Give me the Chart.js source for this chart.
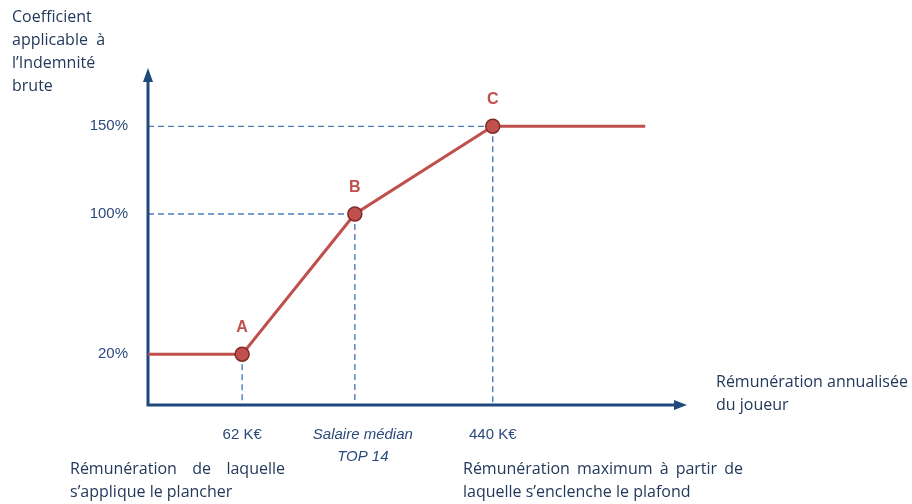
<!DOCTYPE html>
<html>
<head>
<meta charset="utf-8">
<script src="https://cdn.jsdelivr.net/npm/chart.js@4.4.0/dist/chart.umd.min.js"></script>
<style>
  html, body { margin: 0; padding: 0; background: #fff; }
  #wrap { width: 912px; height: 504px; position: relative; }
</style>
</head>
<body>
<div id="wrap"><canvas id="chart"></canvas></div>
<script>
// Schematic values
const remuneration = [-80, 62, 232, 440, 670];   // K€ (median position estimated)
const coefficient = [20, 20, 100, 150, 150];      // %
const pointNames = ['', 'A', 'B', 'C', ''];
const yTicks = [20, 100, 150];
const xTicks = [
    { at: 62, lines: ['62 K€'], italic: false },
    { at: 232, lines: ['Salaire médian', 'TOP 14'], italic: true },
    { at: 440, lines: ['440 K€'], italic: false }
];

const AXIS = '#1F497D';
const RED = '#C0504D';
const DASH = '#4A7EBB';
const TEXT = '#23395B';
const TICK = '#2C4A7C';
const BODY_FONT = '16px "Open Sans", "Noto Sans", sans-serif';
const TICK_FONT = '15px "Liberation Sans Narrow", "Liberation Sans", Arial, sans-serif';

function justify(ctx, text, x1, x2, y) {
    const words = text.split(' ');
    const total = words.reduce((s, w) => s + ctx.measureText(w).width, 0);
    const gap = (x2 - x1 - total) / (words.length - 1);
    let x = x1;
    words.forEach(w => {
        ctx.fillText(w, x, y);
        x += ctx.measureText(w).width + gap;
    });
}

const diagramPlugin = {
    id: 'diagram',
    beforeDatasetsDraw(chart) {
        const { ctx, chartArea, scales } = chart;
        const xs = scales.x, ys = scales.y;
        const x0 = chartArea.left, y0 = chartArea.bottom;
        ctx.save();

        // dashed guides
        ctx.strokeStyle = DASH;
        ctx.lineWidth = 1.4;
        ctx.setLineDash([6, 4]);
        for (let i = 1; i <= 3; i++) {
            const px = xs.getPixelForValue(remuneration[i]);
            const py = ys.getPixelForValue(coefficient[i]);
            ctx.beginPath();
            ctx.moveTo(px, py);
            ctx.lineTo(px, y0);
            if (i > 1) {
                ctx.moveTo(x0, py);
                ctx.lineTo(px, py);
            }
            ctx.stroke();
        }
        ctx.setLineDash([]);

        // axes with arrows
        ctx.strokeStyle = AXIS;
        ctx.fillStyle = AXIS;
        ctx.lineWidth = 3;
        ctx.beginPath();
        ctx.moveTo(x0, chartArea.top + 8);
        ctx.lineTo(x0, y0);
        ctx.lineTo(chartArea.right - 8, y0);
        ctx.stroke();
        ctx.beginPath();
        ctx.moveTo(x0, chartArea.top - 4);
        ctx.lineTo(x0 - 5, chartArea.top + 10);
        ctx.lineTo(x0 + 5, chartArea.top + 10);
        ctx.closePath();
        ctx.fill();
        ctx.beginPath();
        ctx.moveTo(chartArea.right + 2, y0);
        ctx.lineTo(chartArea.right - 11, y0 - 5);
        ctx.lineTo(chartArea.right - 11, y0 + 5);
        ctx.closePath();
        ctx.fill();
        ctx.restore();
    },
    afterDatasetsDraw(chart) {
        const { ctx, chartArea, scales } = chart;
        const xs = scales.x, ys = scales.y;
        ctx.save();

        // y tick labels
        ctx.font = TICK_FONT;
        ctx.fillStyle = TICK;
        ctx.textAlign = 'right';
        ctx.textBaseline = 'middle';
        yTicks.forEach(v => ctx.fillText(v + '%', chartArea.left - 20, ys.getPixelForValue(v)));

        // x tick labels
        ctx.textAlign = 'center';
        xTicks.forEach(t => {
            ctx.font = (t.italic ? 'italic ' : '') + TICK_FONT;
            const off = t.italic ? 8 : 0;
            t.lines.forEach((l, i) => ctx.fillText(l, xs.getPixelForValue(t.at) + off, chartArea.bottom + 30 + i * 22));
        });

        // point names
        ctx.font = 'bold 16px "Liberation Sans", Arial, sans-serif';
        ctx.fillStyle = RED;
        ctx.textBaseline = 'alphabetic';
        pointNames.forEach((n, i) => {
            if (!n) return;
            ctx.fillText(n, xs.getPixelForValue(remuneration[i]), ys.getPixelForValue(coefficient[i]) - 22);
        });

        // titles and notes
        ctx.font = BODY_FONT;
        ctx.fillStyle = TEXT;
        ctx.textAlign = 'left';
        ['Coefficient', 'applicable  à', 'l\u2019Indemnité', 'brute'].forEach((l, i) => ctx.fillText(l, 12, 22 + i * 23));
        ['Rémunération annualisée', 'du joueur'].forEach((l, i) => ctx.fillText(l, 716, 387 + i * 23));
        justify(ctx, 'Rémunération de laquelle', 70, 285, 474);
        ctx.fillText('s\u2019applique le plancher', 70, 497);
        justify(ctx, 'Rémunération maximum à partir de', 463, 743, 474);
        ctx.fillText('laquelle s\u2019enclenche le plafond', 463, 497);
        ctx.restore();
    }
};

new Chart(document.getElementById('chart'), {
    type: 'line',
    data: {
        labels: remuneration,
        datasets: [{
            data: remuneration.map((x, i) => ({ x, y: coefficient[i] })),
            borderColor: RED,
            borderWidth: 3,
            pointRadius: pointNames.map(n => n ? 7 : 0),
            pointBackgroundColor: RED,
            pointBorderColor: '#7F2A28',
            pointBorderWidth: 1.5,
            tension: 0
        }]
    },
    options: {
        responsive: true,
        maintainAspectRatio: false,
        animation: false,
        layout: { padding: { left: 148, right: 227, top: 72, bottom: 99 } },
        plugins: { legend: { display: false }, tooltip: { enabled: false } },
        scales: {
            x: { type: 'linear', min: -80, max: 730, display: false },
            y: { type: 'linear', min: -9, max: 181, display: false }
        }
    },
    plugins: [diagramPlugin]
});
</script>
</body>
</html>
